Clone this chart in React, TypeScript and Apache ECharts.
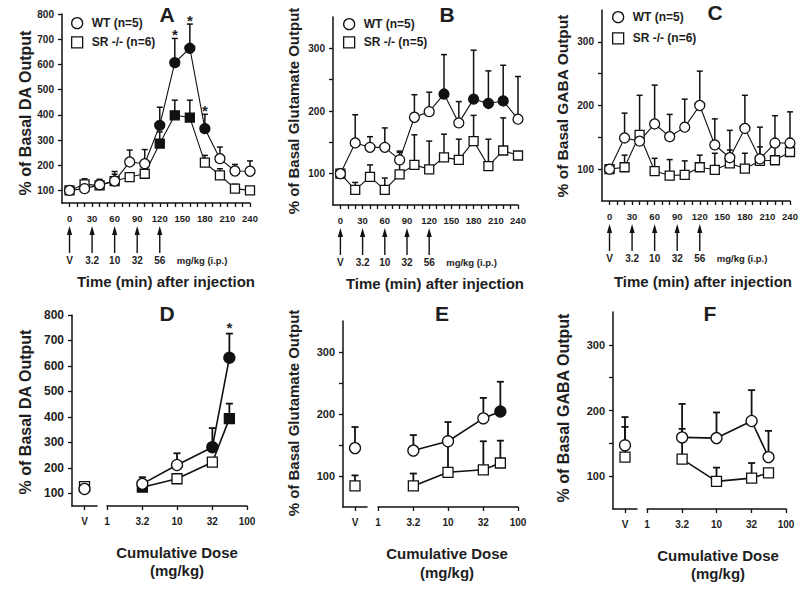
import React, { useEffect, useRef } from "react";
import * as echarts from "echarts";

// ---------------- data ----------------
const times = [0, 20, 40, 60, 80, 100, 120, 140, 160, 180, 200, 220, 240];
const timeLabelTicks = [0, 30, 60, 90, 120, 150, 180, 210, 240];
const timeMinorTicks = [0, 10, 20, 30, 40, 50, 60, 70, 80, 90, 100, 110, 120, 130, 140, 150, 160, 170, 180, 190, 200, 210, 220, 230, 240];
const injectionTimes = [0, 30, 60, 90, 120];
const injectionDoses = ["V", "3.2", "10", "32", "56"];

const daTicks = [100, 200, 300, 400, 500, 600, 700, 800];
const aminoLabelTicks = [100, 200, 300];
const aminoTicks = [100, 150, 200, 250, 300];

// Panel A – DA time course
const aWT = [100, 107, 122, 137, 213, 206, 358, 607, 664, 345, 226, 177, 176];
const aWTErr = [null, 130, 140, 175, 260, 262, 430, 703, 760, 402, 272, 203, 217];
const aWTFilled = [120, 140, 160, 180];
const aSR = [100, 124, 120, 137, 153, 166, 286, 398, 389, 210, 160, 107, 100];
const aSRErr = [null, 146, 144, 164, null, null, 332, 458, 458, 239, 186, 124, null];
const aSRFilled = [120, 140, 160];
const aStars = [140, 160, 180];

// Panel B – Glutamate time course
const bWT = [100, 149, 142, 142, 122, 190, 199, 227, 181, 219, 212, 216, 187];
const bWTErr = [null, 194, 159, 173, 134, 226, 230, 290, 215, 297, 264, 273, 255];
const bWTFilled = [140, 180, 200, 220];
const bSR = [100, 74, 95, 74, 99, 114, 107, 126, 122, 152, 112, 137, 129];
const bSRErr = [null, 86, 114, 93, 136, 162, 152, 163, 155, 193, 155, 189, null];
const bSRFilled: number[] = [];

// Panel C – GABA time course
const cWT = [100, 149, 144, 171, 151, 166, 200, 138, 118, 164, 116, 141, 141];
const cWTErr = [null, 188, null, 232, 186, 210, 254, 179, 161, 216, 166, 184, 190];
const cWTFilled: number[] = [];
const cSR = [100, 103, 154, 97, 90, 91, 103, 99, 109, 101, 113, 114, 127];
const cSRErr = [null, 122, 216, 117, 115, 113, 122, 125, 130, 125, 135, 135, 148];
const cSRFilled: number[] = [];

// Dose-response panels
const doses = [3.2, 10, 32, 56];
const doseTicks = [1, 3.2, 10, 32, 100];
const vehicleCat = ["V"];

// Panel D – DA
const dVehWT = [117];
const dVehWTErr = [null];
const dVehSR = [126];
const dVehSRErr = [null];
const dWT = [137, 211, 281, 632];
const dWTErr = [163, 257, 356, 727];
const dWTFilled = [32, 56];
const dSR = [124, 157, 222, 393];
const dSRErr = [null, null, null, 452];
const dSRFilled = [3.2, 56];
const dStars = [56];

// Panel E – Glutamate
const eVehWT = [145];
const eVehWTErr = [179];
const eVehSR = [84];
const eVehSRErr = [101];
const eWT = [141, 156, 193, 204];
const eWTErr = [166, 187, 226, 252];
const eWTFilled = [56];
const eSR = [84, 106, 110, 121];
const eSRErr = [104, 155, 156, 157];
const eSRFilled: number[] = [];

// Panel F – GABA
const fVehWT = [147];
const fVehWTErr = [190];
const fVehSR = [129];
const fVehSRErr = [175];
const fWT = [159, 158, 184, 129];
const fWTErr = [210, 197, 231, 169];
const fWTFilled: number[] = [];
const fSR = [126, 92, 97, 105];
const fSRErr = [172, 113, 120, null];
const fSRFilled: number[] = [];

// ---------------- styling helpers ----------------
const INK = "#111";
const TXT = "#1e1e1e";
const FONT = "'Liberation Sans', Arial, Helvetica, sans-serif";

type Num = number | null;

function markerData(xs: (number | string)[], ys: number[], filled: (number | string)[]) {
  return xs.map((x, i) =>
    filled.includes(x as any)
      ? { value: [x, ys[i]], itemStyle: { color: INK } }
      : { value: [x, ys[i]] }
  );
}

function errData(xs: (number | string)[], ys: number[], errs: Num[]) {
  const out: any[] = [];
  xs.forEach((x, i) => {
    if (errs[i] != null) out.push([x, ys[i], errs[i]]);
  });
  return out;
}

function errSeries(ax: number, data: any[], lw: number, cap: number) {
  return {
    type: "custom",
    xAxisIndex: ax,
    yAxisIndex: ax,
    z: 1,
    silent: true,
    clip: false,
    data,
    encode: { x: 0, y: [1, 2] },
    renderItem: (params: any, api: any) => {
      const p0 = api.coord([api.value(0), api.value(1)]);
      const p1 = api.coord([api.value(0), api.value(2)]);
      return {
        type: "group",
        children: [
          { type: "line", shape: { x1: p0[0], y1: p0[1], x2: p1[0], y2: p1[1] }, style: { stroke: INK, lineWidth: lw } },
          { type: "line", shape: { x1: p1[0] - cap, y1: p1[1], x2: p1[0] + cap, y2: p1[1] }, style: { stroke: INK, lineWidth: lw } },
        ],
      };
    },
  };
}

function starSeries(ax: number, data: any[], size: number, lift: number) {
  return {
    type: "custom",
    xAxisIndex: ax,
    yAxisIndex: ax,
    z: 4,
    silent: true,
    clip: false,
    data,
    encode: { x: 0, y: 1 },
    renderItem: (params: any, api: any) => {
      const p = api.coord([api.value(0), api.value(1)]);
      return {
        type: "text",
        x: p[0],
        y: p[1] - lift,
        style: { text: "*", textAlign: "center", textVerticalAlign: "middle", font: `bold ${size}px ${FONT}`, fill: TXT },
      };
    },
  };
}

function arrowSeries(ax: number) {
  return {
    type: "custom",
    xAxisIndex: ax,
    yAxisIndex: ax,
    z: 4,
    silent: true,
    clip: false,
    data: injectionTimes.map((t) => [t]),
    encode: { x: 0 },
    renderItem: (params: any, api: any) => {
      const x = api.coord([api.value(0), 100])[0];
      const base = params.coordSys.y + params.coordSys.height;
      const label = injectionDoses[params.dataIndex];
      const children: any[] = [
        { type: "line", shape: { x1: x, y1: base + 27, x2: x, y2: base + 50 }, style: { stroke: INK, lineWidth: 1.4 } },
        { type: "polygon", shape: { points: [[x, base + 23], [x - 2.6, base + 32], [x + 2.6, base + 32]] }, style: { fill: INK } },
        { type: "text", x, y: base + 57, style: { text: label, textAlign: "center", textVerticalAlign: "middle", font: `bold 10px ${FONT}`, fill: TXT } },
      ];
      if (params.dataIndex === injectionTimes.length - 1) {
        children.push({ type: "text", x: x + 17, y: base + 57, style: { text: "mg/kg (i.p.)", textAlign: "left", textVerticalAlign: "middle", font: `bold 9.5px ${FONT}`, fill: TXT } });
      }
      return { type: "group", children };
    },
  };
}

function lineSeries(name: string, ax: number, symbol: string, size: number, data: any[], lw: number, type = "line") {
  return {
    type,
    name,
    xAxisIndex: ax,
    yAxisIndex: ax,
    data,
    symbol,
    symbolSize: size,
    showAllSymbol: true,
    silent: true,
    z: 3,
    itemStyle: { color: "#fff", borderColor: INK, borderWidth: 1.3, opacity: 1 },
    lineStyle: { color: INK, width: lw },
    emphasis: { disabled: true },
  };
}

const axisLineStyle = { color: INK, width: 1.5 };
const tickStyle = { color: INK, width: 1.3 };

function labelStyle(size: number, margin: number, extra: any = {}) {
  return { fontSize: size, fontWeight: "bold", fontFamily: FONT, color: TXT, margin, ...extra };
}

function timeXAxis(gi: number) {
  return {
    type: "value",
    gridIndex: gi,
    min: -10,
    max: 240,
    axisLine: { show: true, onZero: false, lineStyle: axisLineStyle },
    axisTick: { show: true, length: 4, customValues: timeMinorTicks, lineStyle: tickStyle },
    axisLabel: labelStyle(9.5, 10, { customValues: timeLabelTicks }),
    splitLine: { show: false },
  };
}

function yAxisFor(gi: number, min: number, max: number, ticks: number[], labels: number[], size: number, margin: number) {
  return {
    type: "value",
    gridIndex: gi,
    min,
    max,
    axisLine: { show: true, onZero: false, lineStyle: axisLineStyle },
    axisTick: { show: true, length: 4, customValues: ticks, lineStyle: tickStyle },
    axisLabel: labelStyle(size, margin, { customValues: labels }),
    splitLine: { show: false },
  };
}

function hiddenY(gi: number, min: number, max: number) {
  return { type: "value", gridIndex: gi, min, max, show: false };
}

function vehXAxis(gi: number) {
  return {
    type: "category",
    gridIndex: gi,
    data: vehicleCat,
    boundaryGap: true,
    axisLine: { show: true, onZero: false, lineStyle: axisLineStyle },
    axisTick: { show: true, length: 4, alignWithLabel: true, lineStyle: tickStyle },
    axisLabel: labelStyle(10, 10),
    splitLine: { show: false },
  };
}

function doseXAxis(gi: number) {
  return {
    type: "log",
    logBase: 10,
    gridIndex: gi,
    min: 1,
    max: 100,
    axisLine: { show: true, onZero: false, lineStyle: axisLineStyle },
    axisTick: { show: true, length: 4, customValues: doseTicks, lineStyle: tickStyle },
    axisLabel: labelStyle(10, 10, {
      customValues: doseTicks,
      formatter: (v: number) => String(Number(Number(v).toPrecision(2))),
    }),
    splitLine: { show: false },
    minorTick: { show: false },
  };
}

// ---------------- layout ----------------
const grids = [
  { left: 62, top: 14, width: 188, height: 189 }, // A
  { left: 333, top: 17, width: 185, height: 188 }, // B
  { left: 602, top: 10, width: 188, height: 191 }, // C
  { left: 72, top: 315, width: 25, height: 191 }, // D vehicle
  { left: 107, top: 315, width: 140, height: 191 }, // D dose
  { left: 343, top: 321, width: 24, height: 186 }, // E vehicle
  { left: 378, top: 321, width: 140, height: 186 }, // E dose
  { left: 613, top: 312, width: 24, height: 197 }, // F vehicle
  { left: 647, top: 312, width: 139, height: 197 }, // F dose
];

function gtext(text: string, x: number, y: number, size: number, rotate = 0) {
  return {
    type: "text",
    x,
    y,
    rotation: rotate,
    silent: true,
    style: { text, textAlign: "center", textVerticalAlign: "middle", font: `bold ${size}px ${FONT}`, fill: TXT },
  };
}

function buildOption() {
  const series: any[] = [];

  // time-course panels
  const tp = [
    { ax: 0, wt: aWT, wtE: aWTErr, wtF: aWTFilled, sr: aSR, srE: aSRErr, srF: aSRFilled, wtName: "WT (n=5)", srName: "SR -/- (n=6)" },
    { ax: 1, wt: bWT, wtE: bWTErr, wtF: bWTFilled, sr: bSR, srE: bSRErr, srF: bSRFilled, wtName: "WT (n=5)", srName: "SR -/- (n=5)" },
    { ax: 2, wt: cWT, wtE: cWTErr, wtF: cWTFilled, sr: cSR, srE: cSRErr, srF: cSRFilled, wtName: "WT (n=5)", srName: "SR -/- (n=6)" },
  ];
  tp.forEach((p) => {
    series.push(errSeries(p.ax, errData(times, p.sr, p.srE), 1.5, 3));
    series.push(errSeries(p.ax, errData(times, p.wt, p.wtE), 1.5, 3));
    series.push(lineSeries(p.srName, p.ax, "rect", 9, markerData(times, p.sr, p.srF), 1.1));
    series.push(lineSeries(p.wtName, p.ax, "circle", 10, markerData(times, p.wt, p.wtF), 1.1));
    series.push(arrowSeries(p.ax));
  });
  series.push(starSeries(0, aStars.map((t) => [t, aWTErr[times.indexOf(t)]]), 15, 4));

  // dose panels
  const dp = [
    { vax: 3, ax: 4, vWT: dVehWT, vWTE: dVehWTErr, vSR: dVehSR, vSRE: dVehSRErr, wt: dWT, wtE: dWTErr, wtF: dWTFilled, sr: dSR, srE: dSRErr, srF: dSRFilled },
    { vax: 5, ax: 6, vWT: eVehWT, vWTE: eVehWTErr, vSR: eVehSR, vSRE: eVehSRErr, wt: eWT, wtE: eWTErr, wtF: eWTFilled, sr: eSR, srE: eSRErr, srF: eSRFilled },
    { vax: 7, ax: 8, vWT: fVehWT, vWTE: fVehWTErr, vSR: fVehSR, vSRE: fVehSRErr, wt: fWT, wtE: fWTErr, wtF: fWTFilled, sr: fSR, srE: fSRErr, srF: fSRFilled },
  ];
  dp.forEach((p) => {
    series.push(errSeries(p.vax, errData(vehicleCat, p.vSR, p.vSRE), 1.8, 3.5));
    series.push(errSeries(p.vax, errData(vehicleCat, p.vWT, p.vWTE), 1.8, 3.5));
    series.push(lineSeries("SR -/-", p.vax, "rect", 10, markerData(vehicleCat, p.vSR, []), 1.6, "scatter"));
    series.push(lineSeries("WT", p.vax, "circle", 11, markerData(vehicleCat, p.vWT, []), 1.6, "scatter"));
    series.push(errSeries(p.ax, errData(doses, p.sr, p.srE), 1.8, 3.5));
    series.push(errSeries(p.ax, errData(doses, p.wt, p.wtE), 1.8, 3.5));
    series.push(lineSeries("SR -/-", p.ax, "rect", 10, markerData(doses, p.sr, p.srF), 1.6));
    series.push(lineSeries("WT", p.ax, "circle", 11, markerData(doses, p.wt, p.wtF), 1.6));
  });
  series.push(starSeries(4, dStars.map((d) => [d, dWTErr[doses.indexOf(d)]]), 15, 6));

  const xAxis = [
    timeXAxis(0), timeXAxis(1), timeXAxis(2),
    vehXAxis(3), doseXAxis(4), vehXAxis(5), doseXAxis(6), vehXAxis(7), doseXAxis(8),
  ];
  const yAxis = [
    yAxisFor(0, 50, 800, daTicks, daTicks, 10, 8),
    yAxisFor(1, 50, 350, aminoTicks, aminoLabelTicks, 10, 8),
    yAxisFor(2, 50, 350, aminoTicks, aminoLabelTicks, 10, 8),
    yAxisFor(3, 50, 800, daTicks, daTicks, 12, 8),
    hiddenY(4, 50, 800),
    yAxisFor(5, 50, 350, aminoTicks, aminoLabelTicks, 11, 8),
    hiddenY(6, 50, 350),
    yAxisFor(7, 50, 350, aminoTicks, aminoLabelTicks, 11, 8),
    hiddenY(8, 50, 350),
  ];

  const legendBase = {
    orient: "vertical",
    padding: 0,
    itemWidth: 11,
    itemHeight: 11,
    selectedMode: false,
    itemStyle: { color: "#fff", borderColor: INK, borderWidth: 1.3 },
    textStyle: { fontSize: 12, fontWeight: "bold", fontFamily: FONT, color: TXT, lineHeight: 12, padding: [0, 0, 0, 4] },
  };
  const legend = [
    { ...legendBase, left: 71, top: 17, itemGap: 7, data: [{ name: "WT (n=5)", icon: "circle" }, { name: "SR -/- (n=6)", icon: "rect" }] },
    { ...legendBase, left: 343, top: 18, itemGap: 6, data: [{ name: "WT (n=5)", icon: "circle" }, { name: "SR -/- (n=5)", icon: "rect" }] },
    { ...legendBase, left: 612, top: 11, itemGap: 9, data: [{ name: "WT (n=5)", icon: "circle" }, { name: "SR -/- (n=6)", icon: "rect" }] },
  ];

  const R = Math.PI / 2;
  const graphic = [
    gtext("A", 167, 14, 21),
    gtext("B", 447, 14, 21),
    gtext("C", 715, 12, 21),
    gtext("D", 167, 313, 21),
    gtext("E", 442, 313, 21),
    gtext("F", 710, 313, 21),
    gtext("% of Basal DA Output", 25, 113, 16, R),
    gtext("% of Basal Glutamate Output", 293, 111, 15, R),
    gtext("% of Basal GABA Output", 562, 106, 15.5, R),
    gtext("% of Basal DA Output", 25, 412, 16, R),
    gtext("% of Basal Glutamate Output", 293, 413, 15, R),
    gtext("% of Basal GABA Output", 563, 408, 16, R),
    gtext("Time (min) after injection", 166, 281, 15),
    gtext("Time (min) after injection", 435, 283, 15),
    gtext("Time (min) after injection", 703, 281, 15),
    gtext("Cumulative Dose", 177, 552, 15),
    gtext("(mg/kg)", 177, 570, 15),
    gtext("Cumulative Dose", 447, 553, 15),
    gtext("(mg/kg)", 447, 572, 15),
    gtext("Cumulative Dose", 718, 555, 15),
    gtext("(mg/kg)", 718, 573, 15),
  ];

  return {
    animation: false,
    backgroundColor: "#fff",
    grid: grids.map((g) => ({ ...g, containLabel: false, outerBoundsMode: "none" })),
    xAxis,
    yAxis,
    legend,
    series,
    graphic,
  };
}

export default function App() {
  const ref = useRef<HTMLDivElement>(null);
  useEffect(() => {
    if (!ref.current) return;
    const chart = echarts.init(ref.current, undefined, { renderer: "svg" });
    chart.setOption(buildOption() as any);
    return () => chart.dispose();
  }, []);
  return (
    <div
      ref={ref}
      style={{ position: "fixed", left: 0, top: 0, width: 800, height: 591, background: "#fff" }}
    />
  );
}
